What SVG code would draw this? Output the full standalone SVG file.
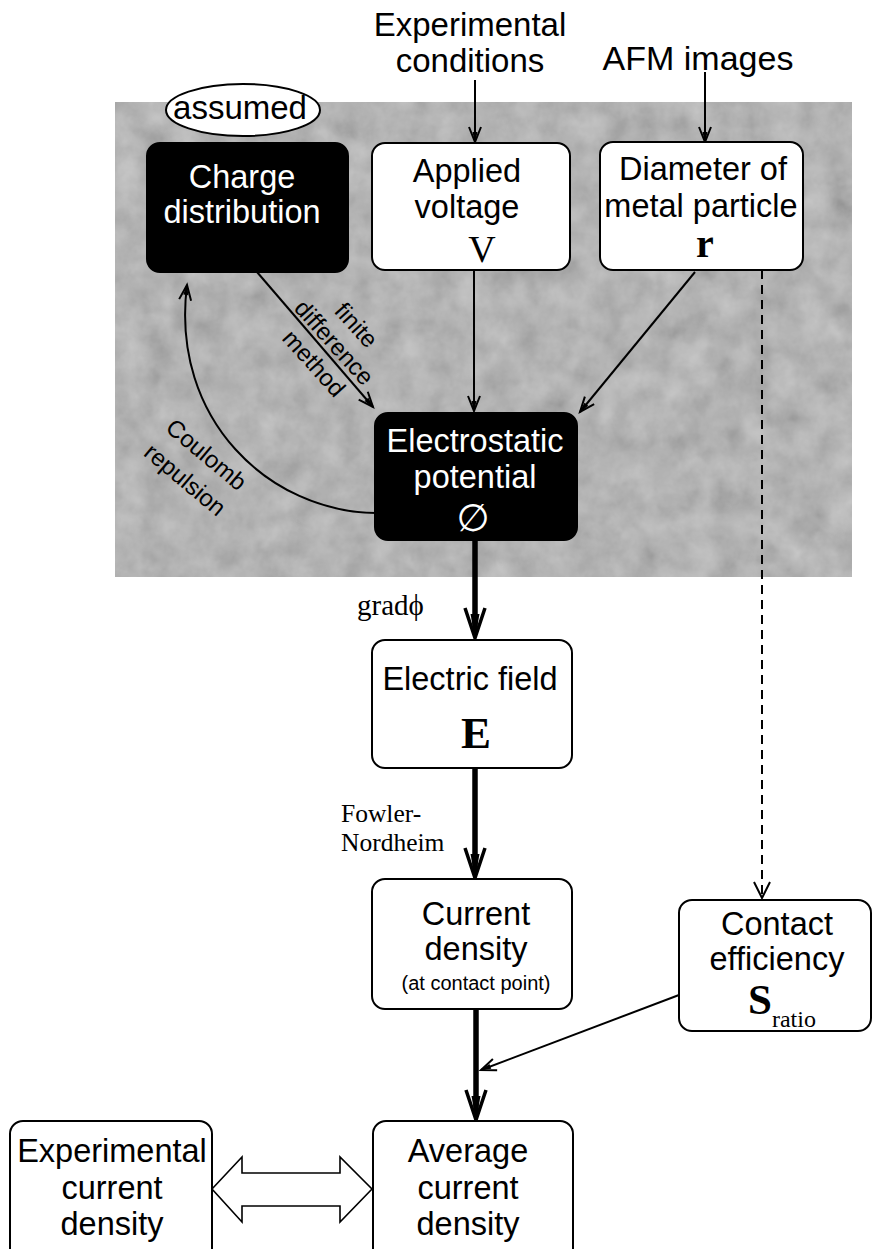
<svg xmlns="http://www.w3.org/2000/svg" width="872" height="1249" viewBox="0 0 872 1249">
<style>
  .sans { font-family: "Liberation Sans", Arial, sans-serif; }
  .serif { font-family: "Liberation Serif", "Times New Roman", serif; }
  .lbl { font-size: 32.5px; fill: #000; text-anchor: middle; }
  .wlbl { font-size: 32.5px; fill: #fff; text-anchor: middle; }
  .wbox { fill: #fff; stroke: #000; stroke-width: 2; }
  .bbox { fill: #000; stroke: #000; stroke-width: 2; }
  .thin { fill: none; stroke: #000; stroke-width: 2; }
  .thick { fill: none; stroke: #000; stroke-width: 5.5; }
  .dash { fill: none; stroke: #000; stroke-width: 2; stroke-dasharray: 9 6; }
  .rot { font-size: 24px; fill: #000; text-anchor: middle; }
</style>
<defs>
  <filter id="tex" x="0" y="0" width="100%" height="100%">
    <feTurbulence type="fractalNoise" baseFrequency="0.035" numOctaves="4" seed="5" result="n"/>
    <feColorMatrix in="n" type="matrix" values="0.33 0.33 0.33 0 0  0.33 0.33 0.33 0 0  0.33 0.33 0.33 0 0  0 0 0 0 0.5"/>
    <feComposite operator="in" in2="SourceGraphic"/>
  </filter>
  <marker id="ah" markerUnits="userSpaceOnUse" markerWidth="24" markerHeight="24" viewBox="-20 -12 24 24" refX="0" refY="0" orient="auto" overflow="visible">
    <path d="M-15,-6 L0,0 L-15,6" fill="none" stroke="#000" stroke-width="2"/>
    <path d="M1,0 L-10,-2.5 L-10,2.5Z" fill="#000"/>
  </marker>
  <marker id="ahb" markerUnits="userSpaceOnUse" markerWidth="40" markerHeight="30" viewBox="-34 -15 40 30" refX="-8" refY="0" orient="auto" overflow="visible">
    <path d="M-30,-10 L0,0 L-30,10" fill="none" stroke="#000" stroke-width="3.5"/>
    <path d="M1,0 L-24,-4.5 L-24,4.5Z" fill="#000"/>
  </marker>
</defs>

<rect width="872" height="1249" fill="#fff"/>

<!-- textured gray background -->
<g id="background">
  <rect x="115" y="102" width="737" height="475" fill="#acacac"/>
  <rect x="115" y="102" width="737" height="475" fill="#000" filter="url(#tex)"/>
</g>

<!-- top labels -->
<g id="exp-conditions">
  <text class="sans lbl" x="470" y="36" style="font-size:33px">Experimental</text>
  <text class="sans lbl" x="470" y="72" style="font-size:33px">conditions</text>
</g>
<g id="afm-images">
  <text class="sans lbl" x="698" y="70" style="font-size:34px">AFM images</text>
</g>

<!-- connectors -->
<g id="connectors">
  <line class="thin" x1="475" y1="80" x2="475" y2="142" marker-end="url(#ah)"/>
  <line class="thin" x1="705" y1="72" x2="705" y2="142" marker-end="url(#ah)"/>
  <line class="thin" x1="474" y1="270" x2="474" y2="411" marker-end="url(#ah)"/>
  <line class="thin" x1="695" y1="272" x2="580" y2="412" marker-end="url(#ah)"/>
  <line class="thin" x1="257" y1="272" x2="373" y2="407" marker-end="url(#ah)"/>
  <path class="thin" d="M376,513 C270,512 170,420 187,285" marker-end="url(#ah)"/>
  <line class="dash" x1="762" y1="270" x2="762" y2="898"/>
  <path d="M754,882 L762,898 L770,882" fill="none" stroke="#000" stroke-width="2"/>
  <line class="thick" x1="475" y1="540" x2="475" y2="630" marker-end="url(#ahb)"/>
  <line class="thick" x1="475" y1="768" x2="475" y2="870" marker-end="url(#ahb)"/>
  <line class="thick" x1="476" y1="1010" x2="476" y2="1112" marker-end="url(#ahb)"/>
  <line class="thin" x1="679" y1="995" x2="481" y2="1070" marker-end="url(#ah)"/>
  <polygon points="212,1189 242,1157 242,1173 340,1173 340,1157 372,1189 340,1222 340,1206 242,1206 242,1222" fill="#fff" stroke="#000" stroke-width="1.6" stroke-linejoin="miter"/>
</g>

<!-- connector labels -->
<g id="label-finite">
  <g transform="translate(257,272) rotate(48)">
    <text class="sans rot" x="106" y="-30">finite</text>
    <text class="sans rot" x="104" y="-2">difference</text>
    <text class="sans rot" x="106" y="27">method</text>
  </g>
</g>
<g id="label-coulomb">
  <g transform="translate(196,467) rotate(40)">
    <text class="sans rot" x="0" y="-8">Coulomb</text>
    <text class="sans rot" x="0" y="25">repulsion</text>
  </g>
</g>
<g id="label-grad">
  <text class="serif" x="357" y="615" font-size="29">grad<tspan font-family="'Liberation Serif','DejaVu Serif',serif">ϕ</tspan></text>
</g>
<g id="label-fn">
  <text class="serif" x="341" y="822" font-size="25.5">Fowler-</text>
  <text class="serif" x="341" y="851" font-size="25.5">Nordheim</text>
</g>

<!-- nodes -->
<g id="assumed">
  <ellipse cx="243" cy="110" rx="77" ry="26" fill="#fff" stroke="#000" stroke-width="2"/>
  <text class="sans lbl" x="240" y="119" style="font-size:33px">assumed</text>
</g>
<g id="charge-distribution">
  <rect class="bbox" x="147" y="143" width="201" height="129" rx="13"/>
  <text class="sans wlbl" x="242" y="188">Charge</text>
  <text class="sans wlbl" x="242" y="223">distribution</text>
</g>
<g id="applied-voltage">
  <rect class="wbox" x="372" y="143" width="198" height="127" rx="13"/>
  <text class="sans lbl" x="467" y="182">Applied</text>
  <text class="sans lbl" x="467" y="218">voltage</text>
  <text class="serif lbl" x="482" y="262" style="font-size:38px">V</text>
</g>
<g id="diameter">
  <rect class="wbox" x="600" y="142" width="203" height="128" rx="13"/>
  <text class="sans lbl" x="703" y="180">Diameter of</text>
  <text class="sans lbl" x="701" y="217">metal particle</text>
  <text class="serif lbl" x="705" y="257" style="font-size:40px;font-weight:bold">r</text>
</g>
<g id="electrostatic-potential">
  <rect class="bbox" x="375" y="413" width="202" height="127" rx="13"/>
  <text class="sans wlbl" x="475" y="452">Electrostatic</text>
  <text class="sans wlbl" x="475" y="488">potential</text>
  <text class="wlbl" x="473" y="531" style="font-family:'DejaVu Sans',sans-serif;font-size:38px;font-style:italic">∅</text>
</g>
<g id="electric-field">
  <rect class="wbox" x="372" y="640" width="200" height="128" rx="13"/>
  <text class="sans lbl" x="470" y="690">Electric field</text>
  <text class="serif lbl" x="476" y="748" style="font-size:45px;font-weight:bold">E</text>
</g>
<g id="current-density">
  <rect class="wbox" x="372" y="879" width="200" height="130" rx="13"/>
  <text class="sans lbl" x="476" y="925">Current</text>
  <text class="sans lbl" x="476" y="960">density</text>
  <text class="sans lbl" x="476" y="990" style="font-size:20px">(at contact point)</text>
</g>
<g id="contact-efficiency">
  <rect class="wbox" x="679" y="900" width="192" height="131" rx="13"/>
  <text class="sans lbl" x="777" y="935">Contact</text>
  <text class="sans lbl" x="777" y="970">efficiency</text>
  <text class="serif" x="748" y="1014" font-size="43" font-weight="bold">S<tspan font-size="24" font-weight="normal" dy="13">ratio</tspan></text>
</g>
<g id="average-current-density">
  <rect class="wbox" x="373" y="1121" width="200" height="140" rx="13"/>
  <text class="sans lbl" x="468" y="1162">Average</text>
  <text class="sans lbl" x="468" y="1199">current</text>
  <text class="sans lbl" x="468" y="1235">density</text>
</g>
<g id="experimental-current-density">
  <rect class="wbox" x="10" y="1121" width="202" height="140" rx="13"/>
  <text class="sans lbl" x="112" y="1162">Experimental</text>
  <text class="sans lbl" x="112" y="1199">current</text>
  <text class="sans lbl" x="112" y="1235">density</text>
</g>
</svg>
